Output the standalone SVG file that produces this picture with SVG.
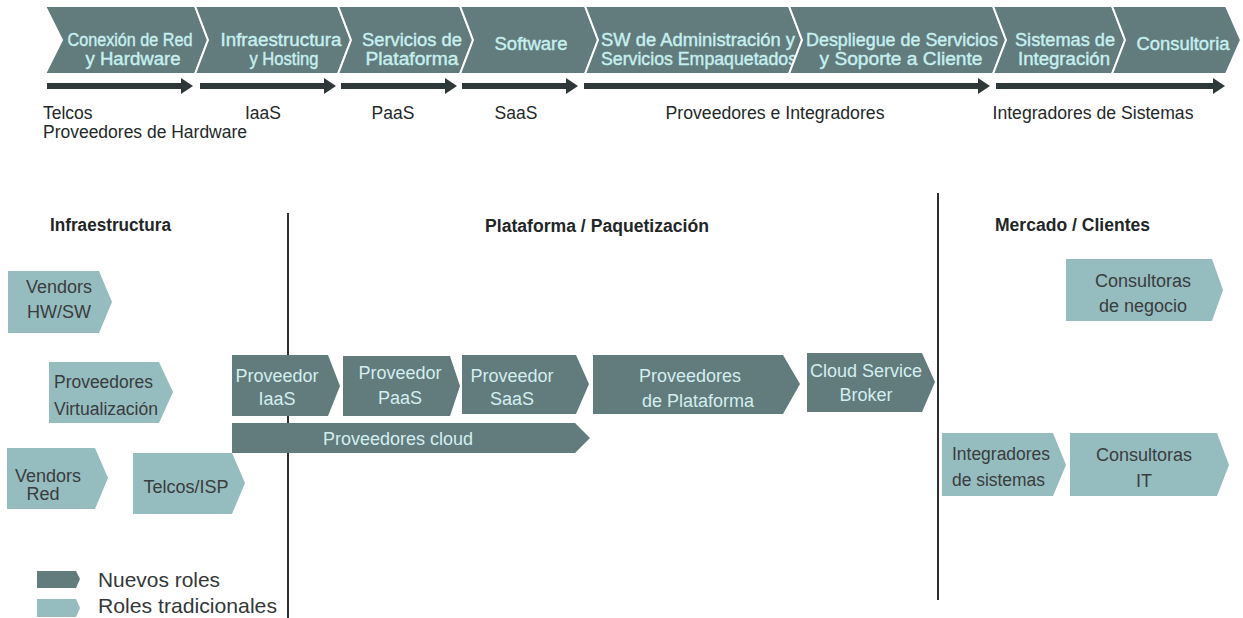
<svg xmlns="http://www.w3.org/2000/svg" width="1243" height="618" viewBox="0 0 1243 618">
<style>
  .band{fill:#627b7c;stroke:#ffffff;stroke-width:2;stroke-linejoin:miter}
  .dark{fill:#627b7c}
  .light{fill:#95bcbf}
  .arrow{fill:#2f3838}
  .vline{stroke:#2a2f2f;stroke-width:2;fill:none}
  text{font-family:"Liberation Sans",Arial,sans-serif}
  .ct{fill:#c6f0f0;font-size:17.5px;stroke:#c6f0f0;stroke-width:0.4;text-anchor:middle}
  .lab{fill:#232828;font-size:17.5px}
  .mid{text-anchor:middle}
  .hdr{fill:#1f2727;font-size:18px;font-weight:bold}
  .dt{fill:#d3eeee;font-size:18px;text-anchor:middle}
  .lt{fill:#3a3d3d;font-size:18px;text-anchor:middle}
  .ls{fill:#3a3d3d;font-size:18px;text-anchor:start}
  .leg{fill:#333838;font-size:21px}
</style>

<!-- Top value chain -->
<g id="chain">
  <g id="c1"><polygon class="band" points="45,6 195,6 208,40 195,74 45,74 62,40"/>
    <text class="ct" x="130" y="46" textLength="125" lengthAdjust="spacingAndGlyphs">Conexión de Red</text>
    <text class="ct" x="133" y="65" textLength="95" lengthAdjust="spacingAndGlyphs">y Hardware</text></g>
  <g id="c2"><polygon class="band" points="195,6 338,6 351,40 338,74 195,74 208,40"/>
    <text class="ct" x="281" y="46" textLength="121" lengthAdjust="spacingAndGlyphs">Infraestructura</text>
    <text class="ct" x="284" y="65" textLength="69" lengthAdjust="spacingAndGlyphs">y Hosting</text></g>
  <g id="c3"><polygon class="band" points="338,6 460,6 473,40 460,74 338,74 351,40"/>
    <text class="ct" x="412" y="46" textLength="100" lengthAdjust="spacingAndGlyphs">Servicios de</text>
    <text class="ct" x="412" y="65" textLength="93" lengthAdjust="spacingAndGlyphs">Plataforma</text></g>
  <g id="c4"><polygon class="band" points="460,6 585,6 598,40 585,74 460,74 473,40"/>
    <text class="ct" x="531" y="50" textLength="73" lengthAdjust="spacingAndGlyphs">Software</text></g>
  <g id="c5"><polygon class="band" points="585,6 789,6 802,40 789,74 585,74 598,40"/>
    <text class="ct" x="698" y="46" textLength="194" lengthAdjust="spacingAndGlyphs">SW de Administración y</text>
    <text class="ct" x="699" y="65" textLength="196" lengthAdjust="spacingAndGlyphs">Servicios Empaquetados</text></g>
  <g id="c6"><polygon class="band" points="789,6 993,6 1006,40 993,74 789,74 802,40"/>
    <text class="ct" x="902" y="46" textLength="192" lengthAdjust="spacingAndGlyphs">Despliegue de Servicios</text>
    <text class="ct" x="901" y="65" textLength="163" lengthAdjust="spacingAndGlyphs">y Soporte a Cliente</text></g>
  <g id="c7"><polygon class="band" points="993,6 1112,6 1125,40 1112,74 993,74 1006,40"/>
    <text class="ct" x="1065" y="46" textLength="100" lengthAdjust="spacingAndGlyphs">Sistemas de</text>
    <text class="ct" x="1064" y="65" textLength="92" lengthAdjust="spacingAndGlyphs">Integración</text></g>
  <g id="c8"><polygon class="band" points="1112,6 1226,6 1241,40 1226,74 1112,74 1125,40"/>
    <text class="ct" x="1183" y="50" textLength="93" lengthAdjust="spacingAndGlyphs">Consultoria</text></g>
</g>

<!-- Connectors / arrows and dividers -->
<g id="connectors">
  <polygon class="arrow" points="47,83 181,83 181,78 193,86 181,94 181,89 47,89"/>
  <polygon class="arrow" points="200,83 324,83 324,78 336,86 324,94 324,89 200,89"/>
  <polygon class="arrow" points="341,83 445,83 445,78 457,86 445,94 445,89 341,89"/>
  <polygon class="arrow" points="462,83 566,83 566,78 578,86 566,94 566,89 462,89"/>
  <polygon class="arrow" points="584,83 978,83 978,78 990,86 978,94 978,89 584,89"/>
  <polygon class="arrow" points="996,83 1213,83 1213,78 1225,86 1213,94 1213,89 996,89"/>
  <line class="vline" x1="288" y1="213" x2="288" y2="618"/>
  <line class="vline" x1="938" y1="193" x2="938" y2="600"/>
</g>

<!-- Labels under arrows -->
<g id="chain-labels">
  <text class="lab" x="43" y="119">Telcos</text>
  <text class="lab" x="43" y="138" textLength="204" lengthAdjust="spacingAndGlyphs">Proveedores de Hardware</text>
  <text class="lab mid" x="263" y="119">IaaS</text>
  <text class="lab mid" x="393" y="119">PaaS</text>
  <text class="lab mid" x="516" y="119">SaaS</text>
  <text class="lab mid" x="775" y="119" textLength="219" lengthAdjust="spacingAndGlyphs">Proveedores e Integradores</text>
  <text class="lab mid" x="1093" y="119" textLength="201" lengthAdjust="spacingAndGlyphs">Integradores de Sistemas</text>
</g>

<!-- Section headers -->
<g id="headers">
  <text class="hdr" x="50" y="231" textLength="121" lengthAdjust="spacingAndGlyphs">Infraestructura</text>
  <text class="hdr" x="485" y="232" textLength="224" lengthAdjust="spacingAndGlyphs">Plataforma / Paquetización</text>
  <text class="hdr" x="995" y="231" textLength="155" lengthAdjust="spacingAndGlyphs">Mercado / Clientes</text>
</g>

<!-- Traditional roles (light) -->
<g id="vendors-hwsw"><polygon class="light" points="8,271 99,271 112,302 99,333 8,333"/>
  <text class="lt" x="59" y="293">Vendors</text><text class="lt" x="59" y="318">HW/SW</text></g>
<g id="prov-virt"><polygon class="light" points="49,362 159,362 173,392 159,423 49,423"/>
  <text class="ls" x="54" y="388" textLength="99" lengthAdjust="spacingAndGlyphs">Proveedores</text><text class="ls" x="54" y="415" textLength="104" lengthAdjust="spacingAndGlyphs">Virtualización</text></g>
<g id="vendors-red"><polygon class="light" points="7,448 95,448 108,478 95,509 7,509"/>
  <text class="ls" x="15" y="482">Vendors</text><text class="lt" x="43" y="500">Red</text></g>
<g id="telcos-isp"><polygon class="light" points="133,453 232,453 245,483 232,514 133,514"/>
  <text class="lt" x="186" y="493">Telcos/ISP</text></g>
<g id="consultoras-negocio"><polygon class="light" points="1066,259 1212,259 1223,290 1212,321 1066,321"/>
  <text class="lt" x="1143" y="287">Consultoras</text><text class="lt" x="1143" y="312">de negocio</text></g>
<g id="integradores"><polygon class="light" points="942,433 1053,433 1066,465 1053,496 942,496"/>
  <text class="ls" x="952" y="460" textLength="98" lengthAdjust="spacingAndGlyphs">Integradores</text><text class="ls" x="952" y="486" textLength="93" lengthAdjust="spacingAndGlyphs">de sistemas</text></g>
<g id="consultoras-it"><polygon class="light" points="1070,433 1217,433 1229,465 1217,496 1070,496"/>
  <text class="lt" x="1144" y="461">Consultoras</text><text class="lt" x="1144" y="487">IT</text></g>

<!-- New roles (dark) -->
<g id="prov-iaas"><polygon class="dark" points="232,355 328,355 340,386 328,416 232,416"/>
  <text class="dt" x="277" y="382">Proveedor</text><text class="dt" x="277" y="405">IaaS</text></g>
<g id="prov-paas"><polygon class="dark" points="343,356 450,356 460,386 450,416 343,416"/>
  <text class="dt" x="400" y="379">Proveedor</text><text class="dt" x="400" y="404">PaaS</text></g>
<g id="prov-saas"><polygon class="dark" points="462,355 576,355 589,384 576,414 462,414"/>
  <text class="dt" x="512" y="382">Proveedor</text><text class="dt" x="512" y="405">SaaS</text></g>
<g id="prov-plataforma"><polygon class="dark" points="593,355 783,355 800,384 783,414 593,414"/>
  <text class="dt" x="690" y="382">Proveedores</text><text class="dt" x="698" y="407">de Plataforma</text></g>
<g id="csb"><polygon class="dark" points="807,353 922,353 935,382 922,412 807,412"/>
  <text class="dt" x="866" y="377">Cloud Service</text><text class="dt" x="866" y="401">Broker</text></g>
<g id="prov-cloud"><polygon class="dark" points="232,423 575,423 590,438 575,453 232,453"/>
  <text class="dt" x="398" y="445">Proveedores cloud</text></g>

<!-- Legend -->
<g id="legend">
  <polygon class="dark" points="37,571 76,571 80,579 76,588 37,588"/>
  <text class="leg" x="98" y="587" textLength="122" lengthAdjust="spacingAndGlyphs">Nuevos roles</text>
  <polygon class="light" points="37,599 76,599 80,608 76,617 37,617"/>
  <text class="leg" x="98" y="613" textLength="179" lengthAdjust="spacingAndGlyphs">Roles tradicionales</text>
</g>
</svg>
